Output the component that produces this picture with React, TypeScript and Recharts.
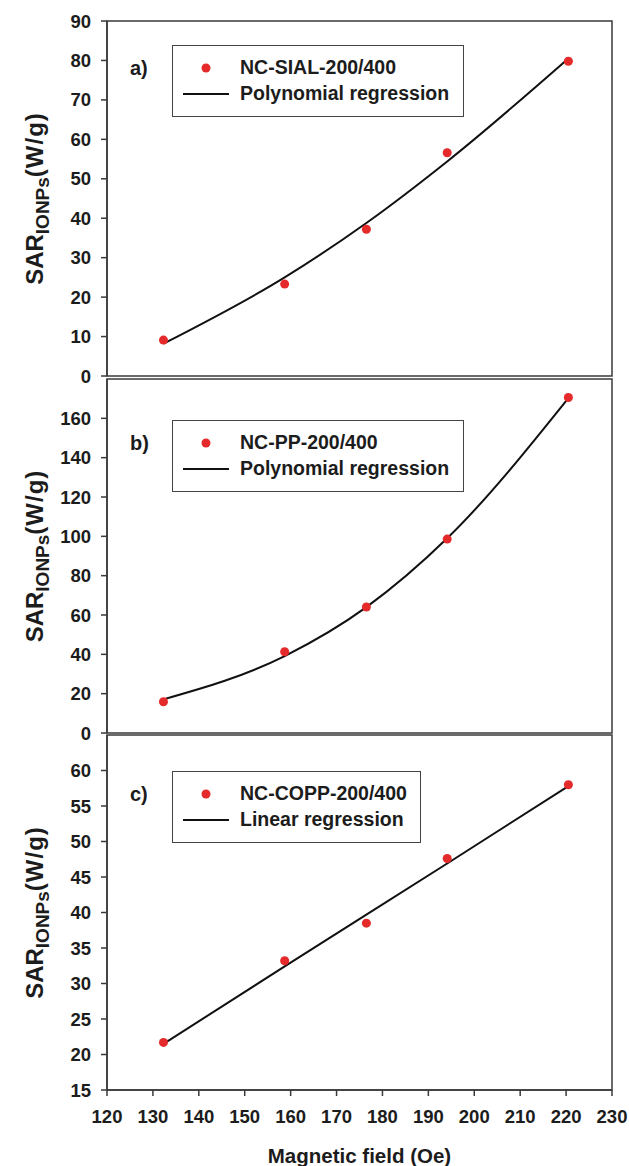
import {
  ComposedChart,
  Label,
  Legend,
  Line,
  ReferenceArea,
  Scatter,
  XAxis,
  YAxis,
} from 'recharts'

// magnetic field (Oe) of the five measurements, shared by all panels
const fieldOe = [132.3, 158.7, 176.5, 194.1, 220.5]
const fieldTicks = [120, 130, 140, 150, 160, 170, 180, 190, 200, 210, 220, 230]

// a) NC-SIAL-200/400
const sarSial = [9.1, 23.3, 37.2, 56.6, 79.8]
const fitSial = [8.2, 25.0, 38.8, 54.4, 80.5]
const ticksSial = [0, 10, 20, 30, 40, 50, 60, 70, 80, 90]

// b) NC-PP-200/400
const sarPp = [15.9, 41.3, 64.1, 98.6, 170.6]
const fitPp = [17.1, 39.1, 64.0, 99.0, 170.3]
const ticksPp = [0, 20, 40, 60, 80, 100, 120, 140, 160]

// c) NC-COPP-200/400
const sarCopp = [21.7, 33.2, 38.5, 47.6, 58.0]
const fitCopp = [21.5, 32.4, 39.7, 46.9, 57.8]
const ticksCopp = [15, 20, 25, 30, 35, 40, 45, 50, 55, 60]

const FONT = 'Arial, "Liberation Sans", sans-serif'
const RED = '#e42a2a'
const INK = '#1c1c1c'
const FRAME = '#3a3a3a'

type Row = { field: number; sar: number; fit: number }

function buildRows(sar: number[], fit: number[]): Row[] {
  return fieldOe.map((field, i) => ({ field, sar: sar[i], fit: fit[i] }))
}

function renderYLabel(props: any) {
  const vb = props.viewBox || {}
  const cx = vb.x + 38
  const cy = vb.y + vb.height / 2
  return (
    <text
      transform={`translate(${cx},${cy}) rotate(-90)`}
      textAnchor="middle"
      fontFamily={FONT}
      fontWeight="bold"
      fontSize={24}
      fill={INK}
    >
      <tspan>SAR</tspan>
      <tspan fontSize={19} dy={6}>IONPs</tspan>
      <tspan dy={-6} letterSpacing={1}>(W/g)</tspan>
    </text>
  )
}

function renderXLabel(props: any) {
  const vb = props.viewBox || {}
  return (
    <text
      x={vb.x + vb.width / 2}
      y={vb.y + 73}
      textAnchor="middle"
      fontFamily={FONT}
      fontWeight="bold"
      fontSize={20.5}
      fill={INK}
    >
      Magnetic field (Oe)
    </text>
  )
}

function PanelLegend({ tag, seriesName, fitName, boxWidth }: { tag: string; seriesName: string; fitName: string; boxWidth: number }) {
  const fs = 19.5
  return (
    <div style={{ position: 'relative', width: 47 + boxWidth, height: 72, fontFamily: FONT, fontWeight: 'bold', color: INK }}>
      <span style={{ position: 'absolute', left: 5, top: 23 - 10, fontSize: 20, lineHeight: '20px' }}>{tag}</span>
      <div
        style={{
          position: 'absolute',
          left: 47,
          top: 0,
          width: boxWidth,
          height: 72,
          border: '1px solid #444',
          boxSizing: 'border-box',
          background: '#fff',
        }}
      >
        <svg width={62} height={70} style={{ position: 'absolute', left: 0, top: 0 }}>
          <circle cx={33} cy={22} r={4.5} fill={RED} />
          <line x1={10} x2={56} y1={48} y2={48} stroke="#111" strokeWidth={2} />
        </svg>
        <span style={{ position: 'absolute', left: 67, top: 22 - fs / 2, fontSize: fs, lineHeight: `${fs}px`, whiteSpace: 'nowrap' }}>
          {seriesName}
        </span>
        <span style={{ position: 'absolute', left: 67, top: 48 - fs / 2, fontSize: fs, lineHeight: `${fs}px`, whiteSpace: 'nowrap' }}>
          {fitName}
        </span>
      </div>
    </div>
  )
}

type PanelProps = {
  top: number
  height: number
  margin: { top: number; right: number; bottom: number; left: number }
  rows: Row[]
  yDomain: [number, number]
  yTicks: number[]
  showX: boolean
  fitCurve: 'monotone' | 'linear'
  legendTop: number
  legend: { tag: string; seriesName: string; fitName: string; boxWidth: number }
}

function Panel({ top, height, margin, rows, yDomain, yTicks, showX, fitCurve, legendTop, legend }: PanelProps) {
  const tickStyle = { fill: INK, fontSize: 18.5, fontWeight: 'bold', fontFamily: FONT }
  return (
    <div style={{ position: 'absolute', left: 0, top }}>
      <ComposedChart width={629} height={height} data={rows} margin={margin}>
        <XAxis
          type="number"
          dataKey="field"
          domain={[120, 230]}
          ticks={fieldTicks}
          hide={!showX}
          height={60}
          stroke={FRAME}
          strokeWidth={1.5}
          tickSize={6}
          tickMargin={14}
          tick={tickStyle}
          interval={0}
          allowDataOverflow
        >
          {showX && <Label content={renderXLabel} />}
        </XAxis>
        <YAxis
          type="number"
          domain={yDomain}
          ticks={yTicks}
          width={102}
          stroke={FRAME}
          strokeWidth={1.5}
          tickSize={6}
          tickMargin={10}
          tick={tickStyle}
          interval={0}
          allowDataOverflow
        >
          <Label content={renderYLabel} />
        </YAxis>
        <ReferenceArea
          x1={120}
          x2={230}
          y1={yDomain[0]}
          y2={yDomain[1]}
          fill="none"
          stroke={FRAME}
          strokeWidth={1.5}
          ifOverflow="visible"
        />
        <Line
          type={fitCurve}
          dataKey="fit"
          stroke="#111"
          strokeWidth={2}
          dot={false}
          activeDot={false}
          isAnimationActive={false}
          legendType="line"
        />
        <Scatter dataKey="sar" fill={RED} isAnimationActive={false} />
        <Legend
          layout="vertical"
          align="center"
          verticalAlign="middle"
          wrapperStyle={{ left: 125, top: legendTop, width: 47 + legend.boxWidth, height: 72 }}
          content={() => <PanelLegend {...legend} />}
        />
      </ComposedChart>
    </div>
  )
}

export default function App() {
  return (
    <div style={{ position: 'absolute', left: 0, top: 0, width: 629, height: 1166, background: '#fff', overflow: 'hidden' }}>
      <Panel
        top={0}
        height={400}
        margin={{ top: 21, right: 17, bottom: 24, left: 5 }}
        rows={buildRows(sarSial, fitSial)}
        yDomain={[0, 90]}
        yTicks={ticksSial}
        showX={false}
        fitCurve="monotone"
        legendTop={45}
        legend={{ tag: 'a)', seriesName: 'NC-SIAL-200/400', fitName: 'Polynomial regression', boxWidth: 292 }}
      />
      <Panel
        top={360}
        height={400}
        margin={{ top: 19, right: 17, bottom: 27, left: 5 }}
        rows={buildRows(sarPp, fitPp)}
        yDomain={[0, 180]}
        yTicks={ticksPp}
        showX={false}
        fitCurve="monotone"
        legendTop={60}
        legend={{ tag: 'b)', seriesName: 'NC-PP-200/400', fitName: 'Polynomial regression', boxWidth: 292 }}
      />
      <Panel
        top={700}
        height={466}
        margin={{ top: 35, right: 17, bottom: 16, left: 5 }}
        rows={buildRows(sarCopp, fitCopp)}
        yDomain={[15, 65]}
        yTicks={ticksCopp}
        showX={true}
        fitCurve="linear"
        legendTop={71}
        legend={{ tag: 'c)', seriesName: 'NC-COPP-200/400', fitName: 'Linear regression', boxWidth: 249 }}
      />
    </div>
  )
}
